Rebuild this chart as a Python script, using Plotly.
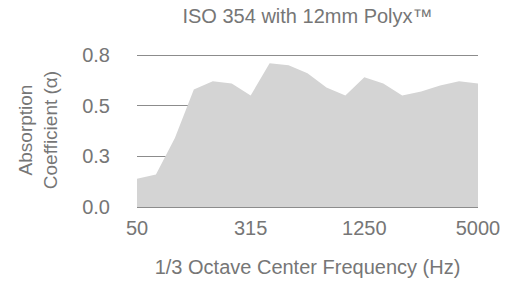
import plotly.graph_objects as go

frequencies = ["50", "100", "125", "160", "200", "250", "315", "400", "500", "630",
               "800", "1000", "1250", "1600", "2000", "2500", "3150", "4000", "5000"]
absorption = [0.14, 0.16, 0.34, 0.58, 0.62, 0.61, 0.55, 0.71, 0.70, 0.66,
              0.59, 0.55, 0.64, 0.61, 0.55, 0.57, 0.60, 0.62, 0.61]
x_tick_labels = ["50", "315", "1250", "5000"]
y_tick_values = [0, 0.25, 0.5, 0.75]
y_tick_labels = ["0.0", "0.3", "0.5", "0.8"]

FONT = "Helvetica Neue, Liberation Sans, Arial, sans-serif"
TEXT = "#767676"
GRID = "#8c8c8c"

fig = go.Figure(go.Scatter(
    x=frequencies, y=absorption, mode="lines", fill="tozeroy",
    fillcolor="#d4d4d4", line=dict(width=0, color="#d4d4d4"),
    hoverinfo="x+y",
))

fig.update_layout(
    width=516, height=282,
    margin=dict(l=137, r=38, t=53, b=75),
    paper_bgcolor="white", plot_bgcolor="white",
    font=dict(family=FONT, color=TEXT, size=20),
    showlegend=False,
    title=dict(text="ISO 354 with 12mm Polyx™", x=(137 + 478) / 2 / 516, xanchor="center",
               y=1 - 16 / 282, yanchor="middle", font=dict(size=20, color=TEXT)),
    xaxis=dict(
        type="category", range=[0, len(frequencies) - 1], automargin=False,
        tickmode="array", tickvals=x_tick_labels, ticktext=x_tick_labels,
        showgrid=False, zeroline=False, showline=True, linecolor=GRID, linewidth=1,
        ticks="", ticklabelstandoff=3,
        tickfont=dict(size=20, color=TEXT),
        title=dict(text="1/3 Octave Center Frequency (Hz)", standoff=21,
                   font=dict(size=20, color=TEXT)),
    ),
    yaxis=dict(
        range=[0, 0.76], tickmode="array", tickvals=y_tick_values, ticktext=y_tick_labels,
        automargin=False,
        showgrid=True, gridcolor=GRID, gridwidth=1, zeroline=False, showline=False,
        ticks="", ticklabelstandoff=26,
        tickfont=dict(size=20, color=TEXT),
        title=dict(text="Absorption<br>Coefficient (α)", standoff=19,
                   font=dict(size=19, color=TEXT)),
    ),
)

fig.write_html("out.html", config={"displayModeBar": False},
               post_script="document.body.style.margin='0px';")
